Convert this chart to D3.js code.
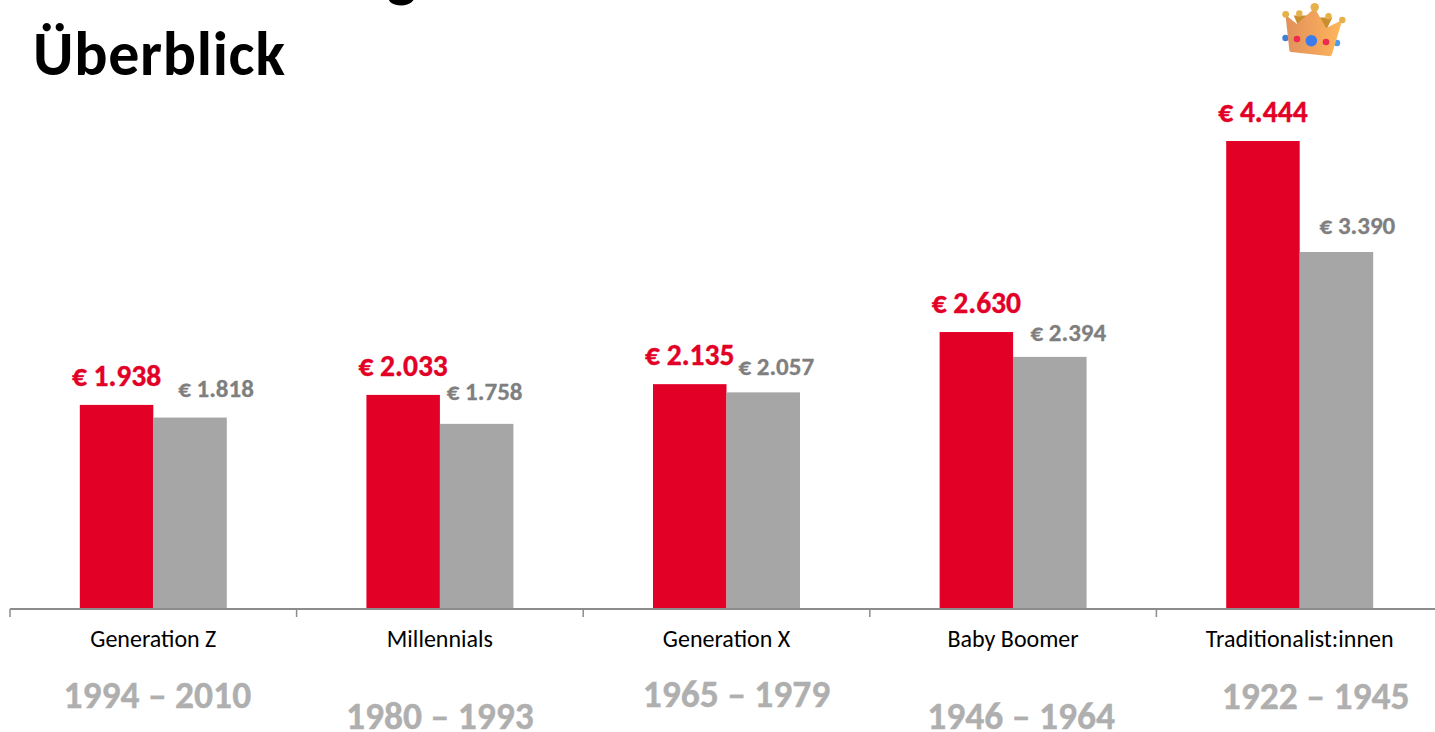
<!DOCTYPE html>
<html>
<head>
<meta charset="utf-8">
<title>Überblick</title>
<script src="https://cdn.jsdelivr.net/npm/d3@7"></script>
<style>
    html, body { margin: 0; padding: 0; background: #fff; overflow: hidden; }
    text { font-family: Carlito, Lato, "Open Sans", sans-serif; }
</style>
</head>
<body>
<script>
    // values
    var generations = ["Generation Z", "Millennials", "Generation X", "Baby Boomer", "Traditionalist:innen"];
    var years = ["1994 – 2010", "1980 – 1993", "1965 – 1979", "1946 – 1964", "1922 – 1945"];
    var seriesRed = [1938, 2033, 2135, 2630, 4444];
    var seriesGrey = [1818, 1758, 2057, 2394, 3390];

    var RED = "#E30026", GREY = "#A6A6A6";
    var width = 1435, height = 732, baseY = 609;

    var svg = d3.select("body").append("svg")
        .attr("width", width)
        .attr("height", height)
        .style("display", "block");

    var x0 = d3.scaleBand().domain(generations).range([10, 1443]);
    var x1 = d3.scaleBand().domain(["red", "grey"]).range([0, x0.bandwidth()]).paddingOuter(0.95);
    var y = d3.scaleLinear().domain([0, 4444]).range([baseY, 141]);

    // label format like 1.938 (German thousands)
    var de = d3.formatLocale({decimal: ",", thousands: ".", grouping: [3], currency: ["€", ""]});
    var euro = function(v) { return "€ " + de.format(",")(v); };

    // title, first line is cut by the top of the slide
    svg.append("text").attr("x", 387).attr("y", -5)
        .attr("font-size", 62).attr("font-weight", 700).text("g");
    svg.append("text").attr("x", 33).attr("y", 75)
        .attr("font-size", 62).attr("font-weight", 700).attr("fill", "#000")
        .attr("letter-spacing", 0.7).text("Überblick");

    // bars
    svg.append("g").selectAll("rect").data(seriesRed).enter().append("rect")
        .attr("x", function(d, i) { return x0(generations[i]) + x1("red"); })
        .attr("y", function(d) { return y(d); })
        .attr("width", x1.bandwidth())
        .attr("height", function(d) { return baseY - y(d); })
        .attr("fill", RED);
    svg.append("g").selectAll("rect").data(seriesGrey).enter().append("rect")
        .attr("x", function(d, i) { return x0(generations[i]) + x1("grey"); })
        .attr("y", function(d) { return y(d); })
        .attr("width", x1.bandwidth())
        .attr("height", function(d) { return baseY - y(d); })
        .attr("fill", GREY);

    // value labels, the grey ones were moved by hand in the original
    var greyNudgeX = [26, 8, 13, 18.5, 21];
    var greyNudgeY = [-21, -24, -17, -16, -18];
    svg.append("g").selectAll("text").data(seriesRed).enter().append("text")
        .attr("x", function(d, i) { return x0(generations[i]) + x1("red") + x1.bandwidth() / 2; })
        .attr("y", function(d) { return y(d) - 19; })
        .attr("text-anchor", "middle").attr("font-size", 29.5).attr("font-weight", 700)
        .attr("fill", RED).attr("stroke", RED).attr("stroke-width", 0.4)
        .text(euro);
    svg.append("g").selectAll("text").data(seriesGrey).enter().append("text")
        .attr("x", function(d, i) { return x0(generations[i]) + x1("grey") + x1.bandwidth() / 2 + greyNudgeX[i]; })
        .attr("y", function(d, i) { return y(d) + greyNudgeY[i]; })
        .attr("text-anchor", "middle").attr("font-size", 25).attr("font-weight", 700)
        .attr("fill", "#7F7F7F").attr("stroke", "#7F7F7F").attr("stroke-width", 0.3)
        .text(euro);

    // axis with ticks between the groups
    var axis = svg.append("g").attr("transform", "translate(0," + baseY + ")");
    axis.append("line").attr("x1", x0.range()[0]).attr("x2", x0.range()[1])
        .attr("stroke", "#8C8C8C").attr("stroke-width", 2);
    axis.selectAll("line.tick").data(generations).enter().append("line")
        .attr("class", "tick")
        .attr("x1", function(d) { return x0(d); })
        .attr("x2", function(d) { return x0(d); })
        .attr("y1", 0).attr("y2", 8)
        .attr("stroke", "#8C8C8C").attr("stroke-width", 1.5);
    axis.selectAll("text").data(generations).enter().append("text")
        .attr("x", function(d) { return x0(d) + x0.bandwidth() / 2; })
        .attr("y", 38)
        .attr("text-anchor", "middle").attr("font-size", 24).attr("fill", "#000")
        .text(function(d) { return d; });

    // birth years, staggered by hand
    var yearNudgeX = [4, 0, 10, 8, 16];
    var yearY = [708, 729, 707, 729, 709];
    svg.append("g").selectAll("text").data(years).enter().append("text")
        .attr("x", function(d, i) { return x0(generations[i]) + x0.bandwidth() / 2 + yearNudgeX[i]; })
        .attr("y", function(d, i) { return yearY[i]; })
        .attr("text-anchor", "middle").attr("font-size", 37.5).attr("font-weight", 700)
        .attr("fill", "#AFAFAF").attr("stroke", "#AFAFAF").attr("stroke-width", 0.4)
        .text(function(d) { return d; });

    // crown icon above the top bar
    var defs = svg.append("defs");
    var grad = defs.append("linearGradient").attr("id", "crownFill");
    grad.append("stop").attr("offset", "0%").attr("stop-color", "#E0915C");
    grad.append("stop").attr("offset", "55%").attr("stop-color", "#F2A45C");
    grad.append("stop").attr("offset", "100%").attr("stop-color", "#FFB85A");
    var crown = svg.append("g");
    [[1285.5, 38, 3.2, "#3F7FD8"], [1337, 43, 3.2, "#4A9BEA"]].forEach(function(c) {
        crown.append("circle").attr("cx", c[0]).attr("cy", c[1]).attr("r", c[2]).attr("fill", c[3]);
    });
    crown.append("path")
        .attr("d", "M1299,24L1304,17L1296,17ZM1326,27L1330,19L1322,19Z")
        .attr("fill", "#C98F2E").attr("stroke", "#C98F2E").attr("stroke-width", 3);
    crown.append("path")
        .attr("d", "M1285.5,15L1297,24L1314.7,8L1326,28L1342.3,20L1331.7,55Q1331,56.5 1328,56L1291,52Q1289.5,52 1289.3,50Z")
        .attr("fill", "url(#crownFill)");
    [[1285.7, 14.3, 3.4], [1299.3, 13.5, 3.2], [1314.7, 7.3, 4.2], [1328.5, 16.3, 3.2], [1342.3, 20, 3.2]].forEach(function(c) {
        crown.append("circle").attr("cx", c[0]).attr("cy", c[1]).attr("r", c[2]).attr("fill", "#E6B04A");
    });
    [[1297, 39, 3.3, "#EE2B4E"], [1326, 42, 3.3, "#EE2B4E"], [1311.3, 40.7, 5.8, "#3B7BEE"]].forEach(function(c) {
        crown.append("circle").attr("cx", c[0]).attr("cy", c[1]).attr("r", c[2]).attr("fill", c[3]);
    });
</script>
</body>
</html>
